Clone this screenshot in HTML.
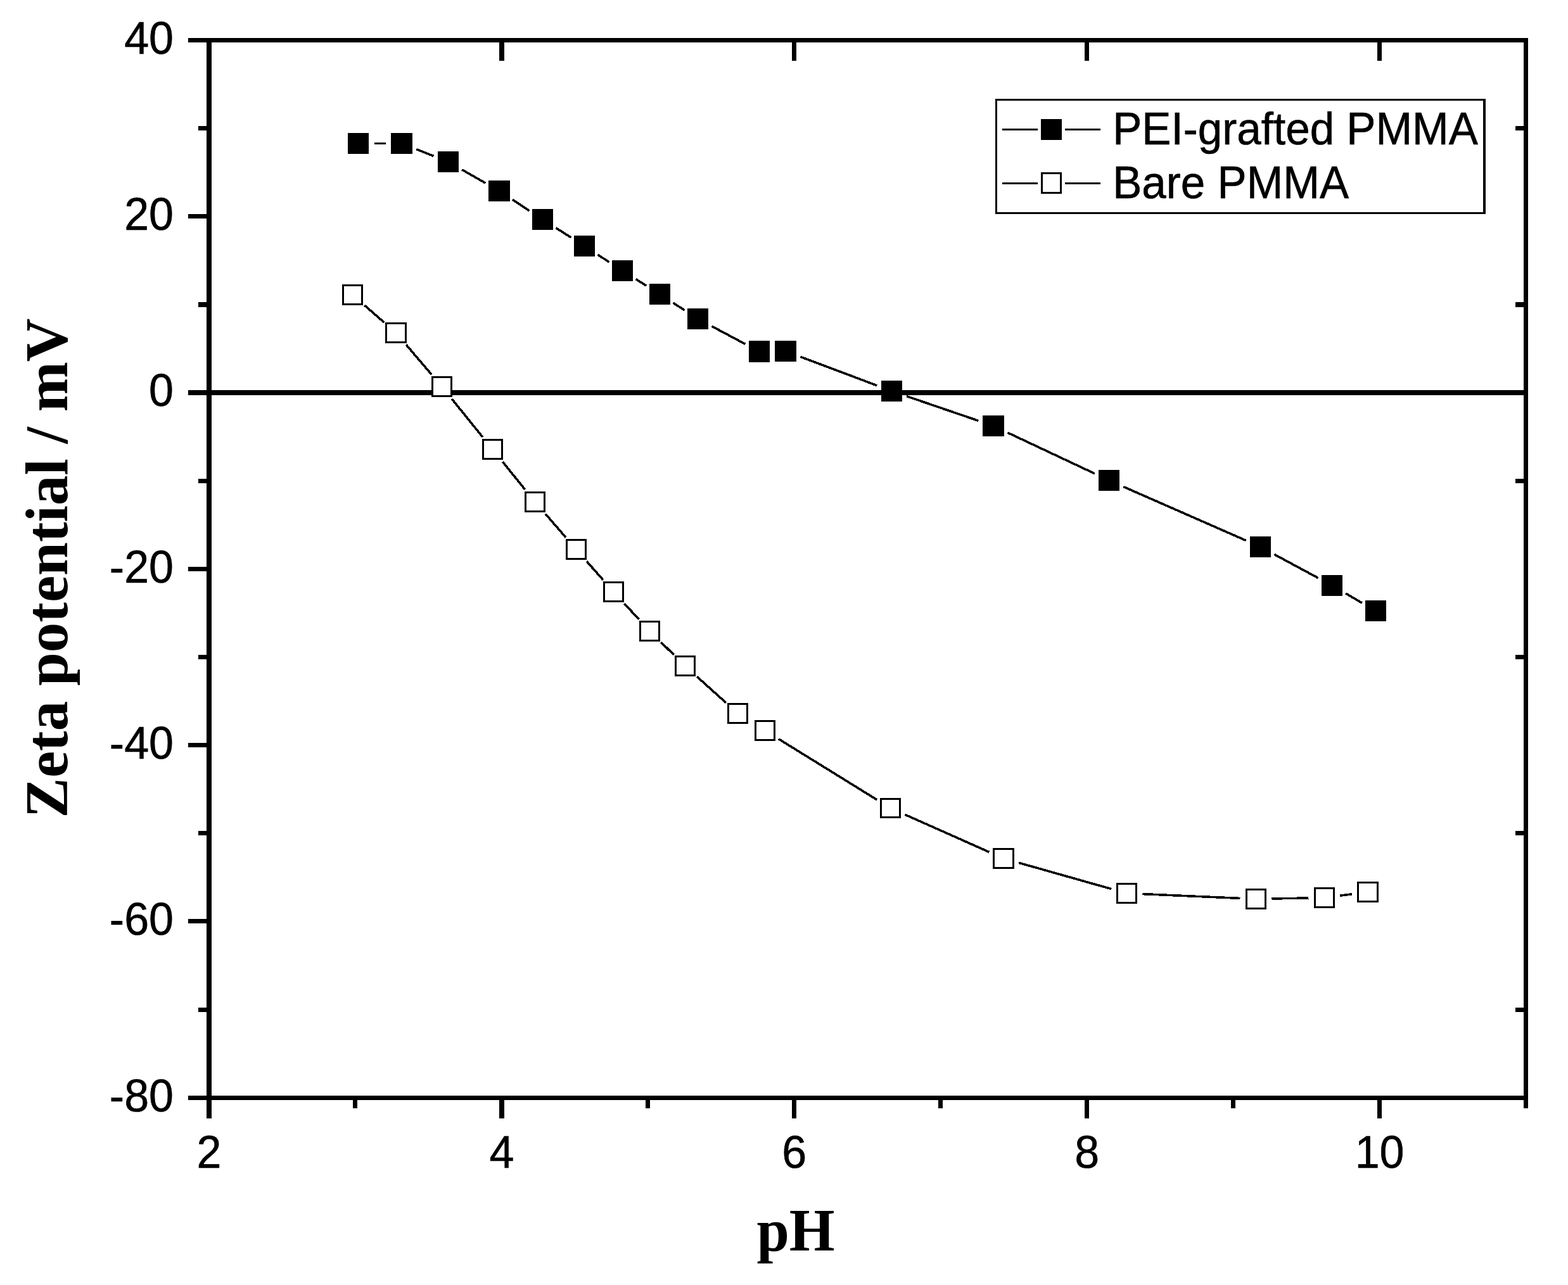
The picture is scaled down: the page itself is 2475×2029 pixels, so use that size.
<!DOCTYPE html>
<html lang="en"><head><meta charset="utf-8"><title>Zeta potential vs pH</title>
<style>html,body{margin:0;padding:0;background:#fff}body{width:2475px;height:2029px;overflow:hidden}svg{display:block}.t{font-family:"Liberation Sans",sans-serif;font-size:70px;fill:#000;stroke:#000;stroke-width:0.6px;font-kerning:none}.lg{font-family:"Liberation Sans",sans-serif;font-size:69.2px;fill:#000;stroke:#000;stroke-width:0.6px;font-kerning:none}.ax{font-family:"Liberation Serif",serif;font-weight:bold;font-size:95px;fill:#000}</style></head><body>
<svg width="2475" height="2029" viewBox="0 0 2475 2029">
<rect x="0" y="0" width="2475" height="2029" fill="#fff"/>
<g fill="#000" shape-rendering="crispEdges">
<rect x="326" y="60" width="8" height="1706" />
<rect x="2405" y="60" width="7" height="1690" />
<rect x="297" y="60" width="2115" height="7" />
<rect x="297" y="1730" width="2115" height="7" />
<rect x="297" y="616" width="2115" height="8" />
<rect x="297" y="338" width="33" height="7" />
<rect x="297" y="895" width="33" height="7" />
<rect x="297" y="1173" width="33" height="7" />
<rect x="297" y="1451" width="33" height="7" />
<rect x="313" y="199" width="17" height="7" />
<rect x="2392" y="199" width="14" height="7" />
<rect x="313" y="477" width="17" height="8" />
<rect x="2392" y="477" width="14" height="8" />
<rect x="313" y="756" width="17" height="7" />
<rect x="2392" y="756" width="14" height="7" />
<rect x="313" y="1034" width="17" height="7" />
<rect x="2392" y="1034" width="14" height="7" />
<rect x="313" y="1312" width="17" height="7" />
<rect x="2392" y="1312" width="14" height="7" />
<rect x="313" y="1591" width="17" height="7" />
<rect x="2392" y="1591" width="14" height="7" />
<rect x="788" y="1733" width="8" height="33" />
<rect x="788" y="63" width="8" height="33" />
<rect x="1250" y="1733" width="7" height="33" />
<rect x="1250" y="63" width="7" height="33" />
<rect x="1712" y="1733" width="7" height="33" />
<rect x="1712" y="63" width="7" height="33" />
<rect x="2174" y="1733" width="7" height="33" />
<rect x="2174" y="63" width="7" height="33" />
<rect x="557" y="1733" width="7" height="17" />
<rect x="1019" y="1733" width="7" height="17" />
<rect x="1481" y="1733" width="7" height="17" />
<rect x="1943" y="1733" width="7" height="17" />
</g>
<g stroke="#000" stroke-width="3.6" fill="none" shape-rendering="crispEdges">
<line x1="575.3" y1="482.0" x2="606.2" y2="509.0"/>
<line x1="641.2" y1="544.5" x2="681.3" y2="591.5"/>
<line x1="713.2" y1="629.9" x2="761.8" y2="690.1"/>
<line x1="793.2" y1="729.0" x2="828.8" y2="773.0"/>
<line x1="860.9" y1="811.4" x2="893.1" y2="848.6"/>
<line x1="926.0" y1="886.3" x2="952.0" y2="915.7"/>
<line x1="985.4" y1="952.9" x2="1008.6" y2="978.1"/>
<line x1="1043.3" y1="1014.0" x2="1063.7" y2="1034.0"/>
<line x1="1100.0" y1="1068.3" x2="1146.0" y2="1109.7"/>
<line x1="1228.8" y1="1166.7" x2="1384.2" y2="1262.8"/>
<line x1="1428.3" y1="1286.2" x2="1561.2" y2="1345.3"/>
<line x1="1608.1" y1="1362.3" x2="1754.4" y2="1403.7"/>
<line x1="1803.5" y1="1411.6" x2="1957.5" y2="1418.4"/>
<line x1="2007.5" y1="1419.0" x2="2065.5" y2="1418.0"/>
<line x1="2115.3" y1="1414.2" x2="2134.2" y2="1411.8"/>
</g>
<g fill="#000" shape-rendering="crispEdges">
<rect x="540" y="449" width="33" height="33" />
<rect x="608" y="509" width="34" height="33" />
<rect x="681" y="594" width="33" height="33" />
<rect x="761" y="693" width="33" height="33" />
<rect x="828" y="776" width="33" height="33" />
<rect x="893" y="851" width="33" height="33" />
<rect x="952" y="918" width="33" height="33" />
<rect x="1009" y="980" width="33" height="33" />
<rect x="1065" y="1035" width="33" height="33" />
<rect x="1148" y="1110" width="33" height="33" />
<rect x="1191" y="1137" width="33" height="33" />
<rect x="1389" y="1260" width="33" height="32" />
<rect x="1567" y="1339" width="34" height="33" />
<rect x="1762" y="1394" width="33" height="33" />
<rect x="1966" y="1403" width="33" height="33" />
<rect x="2074" y="1401" width="33" height="33" />
<rect x="2142" y="1392" width="34" height="33" />
</g>
<g fill="#fff" shape-rendering="crispEdges">
<rect x="543" y="452" width="27" height="27" />
<rect x="611" y="512" width="28" height="27" />
<rect x="684" y="597" width="27" height="27" />
<rect x="764" y="696" width="27" height="27" />
<rect x="831" y="779" width="27" height="27" />
<rect x="896" y="854" width="27" height="27" />
<rect x="955" y="921" width="27" height="27" />
<rect x="1012" y="983" width="27" height="27" />
<rect x="1068" y="1038" width="27" height="27" />
<rect x="1151" y="1113" width="27" height="27" />
<rect x="1194" y="1140" width="27" height="27" />
<rect x="1392" y="1263" width="27" height="26" />
<rect x="1570" y="1342" width="28" height="27" />
<rect x="1765" y="1397" width="27" height="27" />
<rect x="1969" y="1406" width="27" height="27" />
<rect x="2077" y="1404" width="27" height="27" />
<rect x="2145" y="1395" width="28" height="27" />
</g>
<g stroke="#000" stroke-width="3.6" fill="none" shape-rendering="crispEdges">
<line x1="590.5" y1="226.5" x2="609.0" y2="226.5"/>
<line x1="657.3" y1="235.7" x2="684.2" y2="246.3"/>
<line x1="729.2" y1="267.9" x2="766.3" y2="289.1"/>
<line x1="808.9" y1="315.2" x2="835.6" y2="332.8"/>
<line x1="877.6" y1="359.9" x2="901.4" y2="375.1"/>
<line x1="943.5" y1="402.1" x2="961.5" y2="413.9"/>
<line x1="1003.7" y1="440.8" x2="1020.3" y2="451.2"/>
<line x1="1062.5" y1="478.1" x2="1080.5" y2="489.9"/>
<line x1="1123.6" y1="515.2" x2="1176.4" y2="543.3"/>
<line x1="1263.4" y1="563.3" x2="1384.1" y2="608.7"/>
<line x1="1431.1" y1="625.6" x2="1544.4" y2="664.4"/>
<line x1="1590.6" y1="683.2" x2="1727.9" y2="747.8"/>
<line x1="1773.4" y1="768.6" x2="1966.6" y2="853.4"/>
<line x1="2011.5" y1="875.4" x2="2080.5" y2="912.6"/>
<line x1="2124.1" y1="937.0" x2="2149.9" y2="952.0"/>
</g>
<g fill="#000" shape-rendering="crispEdges">
<rect x="549" y="210" width="33" height="33" />
<rect x="617" y="210" width="34" height="33" />
<rect x="691" y="239" width="33" height="33" />
<rect x="771" y="285" width="34" height="33" />
<rect x="840" y="330" width="33" height="33" />
<rect x="906" y="372" width="33" height="33" />
<rect x="966" y="411" width="33" height="33" />
<rect x="1025" y="448" width="33" height="33" />
<rect x="1085" y="487" width="33" height="33" />
<rect x="1182" y="538" width="33" height="34" />
<rect x="1223" y="538" width="34" height="33" />
<rect x="1391" y="601" width="33" height="33" />
<rect x="1551" y="656" width="34" height="33" />
<rect x="1734" y="742" width="33" height="33" />
<rect x="1973" y="847" width="33" height="33" />
<rect x="2086" y="908" width="33" height="33" />
<rect x="2155" y="948" width="33" height="33" />
</g>
<g fill="#000" shape-rendering="crispEdges">
<rect x="1571" y="156" width="774" height="182" />
</g>
<rect x="1574" y="159" width="767" height="176" fill="#fff" shape-rendering="crispEdges"/>
<g fill="#000" shape-rendering="crispEdges">
<rect x="1582" y="203" width="56" height="3" />
<rect x="1681" y="203" width="56" height="3" />
<rect x="1582" y="288" width="56" height="3" />
<rect x="1681" y="288" width="56" height="3" />
<rect x="1643" y="188" width="33" height="33" />
</g>
<rect x="1644.5" y="273.5" width="30" height="31" fill="#fff" stroke="#000" stroke-width="3" shape-rendering="crispEdges"/>
<text class="lg" transform="translate(1756.2,228) scale(1,1.04)">PEI-grafted PMMA</text>
<text class="lg" transform="translate(1756.2,313) scale(1,1.04)">Bare PMMA</text>
<text class="t" text-anchor="end" transform="translate(274,84.5) scale(1,1.04)">40</text>
<text class="t" text-anchor="end" transform="translate(274,362.8) scale(1,1.04)">20</text>
<text class="t" text-anchor="end" transform="translate(274,641.2) scale(1,1.04)">0</text>
<text class="t" text-anchor="end" transform="translate(274,919.5) scale(1,1.04)">-20</text>
<text class="t" text-anchor="end" transform="translate(274,1197.8) scale(1,1.04)">-40</text>
<text class="t" text-anchor="end" transform="translate(274,1476.2) scale(1,1.04)">-60</text>
<text class="t" text-anchor="end" transform="translate(274,1754.5) scale(1,1.04)">-80</text>
<text class="t" text-anchor="middle" transform="translate(330.0,1844) scale(1,1.04)">2</text>
<text class="t" text-anchor="middle" transform="translate(791.9,1844) scale(1,1.04)">4</text>
<text class="t" text-anchor="middle" transform="translate(1253.8,1844) scale(1,1.04)">6</text>
<text class="t" text-anchor="middle" transform="translate(1715.7,1844) scale(1,1.04)">8</text>
<text class="t" text-anchor="middle" transform="translate(2177.6,1844) scale(1,1.04)">10</text>
<text class="ax" text-anchor="middle" transform="translate(1256,1975) scale(0.972,1)">pH</text>
<text class="ax" text-anchor="middle" transform="translate(106,897) rotate(-90)">Zeta potential / mV</text>
</svg></body></html>
